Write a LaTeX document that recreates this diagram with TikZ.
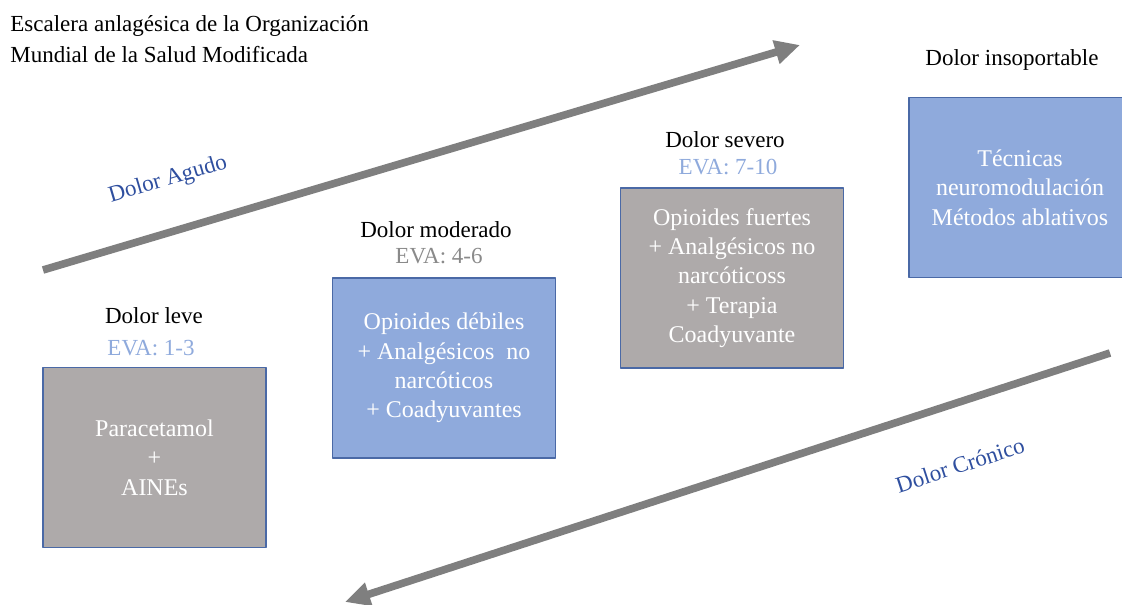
\documentclass[tikz,border=0pt]{standalone}
\usepackage{fontspec}
\setmainfont{Liberation Serif}
\usetikzlibrary{arrows.meta}
\definecolor{boxgray}{HTML}{AEAAAA}
\definecolor{boxblue}{HTML}{8FAADC}
\definecolor{boxedge}{HTML}{4A69A6}
\definecolor{evablue}{HTML}{8FAADC}
\definecolor{evagray}{HTML}{8A8A8A}
\definecolor{arrowgray}{HTML}{7F7F7F}
\definecolor{labelblue}{HTML}{2F4F9F}
\begin{document}
\begin{tikzpicture}[x=0.5pt, y=-0.5pt, font=\fontsize{11.5}{14.5}\selectfont, line join=round,
  >={Triangle[length=12.5pt,width=11.5pt]},
  box/.style={draw=boxedge, line width=0.6pt, text=white, align=center, font=\fontsize{12}{14.7}\selectfont, minimum width=111.5pt, minimum height=90pt, inner sep=0pt},
  head/.style={anchor=base, inner sep=0pt},
  painarrow/.style={->, draw=arrowgray, fill=arrowgray, line width=3.8pt}]
\useasboundingbox (0,0) rectangle (1122,604);
\clip (0,0) rectangle (1122,604);
% title
\node[head, anchor=base west] (titulo) at (10,32) {Escalera anlagésica de la Organización};
\node[head, anchor=base west] (titulob) at (10,63) {Mundial de la Salud Modificada};
% arrows
\coordinate (agudoini) at (43,270);
\coordinate (agudofin) at (800,45);
\coordinate (cronicoini) at (1110,353);
\coordinate (cronicofin) at (345,602);
\draw[painarrow] (agudoini) -- (agudofin);
\draw[painarrow] (cronicoini) -- (cronicofin);
\node[text=labelblue, rotate=16.5] (agudo) at (168,180) {Dolor Agudo};
\node[text=labelblue, rotate=18] (cronico) at (960,465) {Dolor Crónico};
% steps
\node[head] (leve) at (154,323) {Dolor leve};
\node[head, text=evablue] (leveeva) at (151,355) {EVA: 1-3};
\node[box, fill=boxgray] (leveb) at (154.5,457.5) {Paracetamol\\+\\AINEs};
\node[head] (moderado) at (436,237) {Dolor moderado};
\node[head, text=evagray] (moderadoeva) at (439,263) {EVA: 4-6};
\node[box, fill=boxblue] (moderadob) at (444,368) {Opioides débiles\\+ Analgésicos\ \ no\\narcóticos\\+ Coadyuvantes};
\node[head] (severo) at (725,148) {Dolor severo};
\node[head, text=evablue] (severoeva) at (728,175) {EVA: 7-10};
\node[box, fill=boxgray] (severob) at (732,278) {Opioides fuertes\\+ Analgésicos no\\narcóticoss\\+ Terapia\\Coadyuvante};
\node[head] (insop) at (1012,66) {Dolor insoportable};
\node[box, fill=boxblue, minimum width=111pt] (insopb) at (1020,187.5) {Técnicas\\neuromodulación\\Métodos ablativos};
\end{tikzpicture}
\end{document}
